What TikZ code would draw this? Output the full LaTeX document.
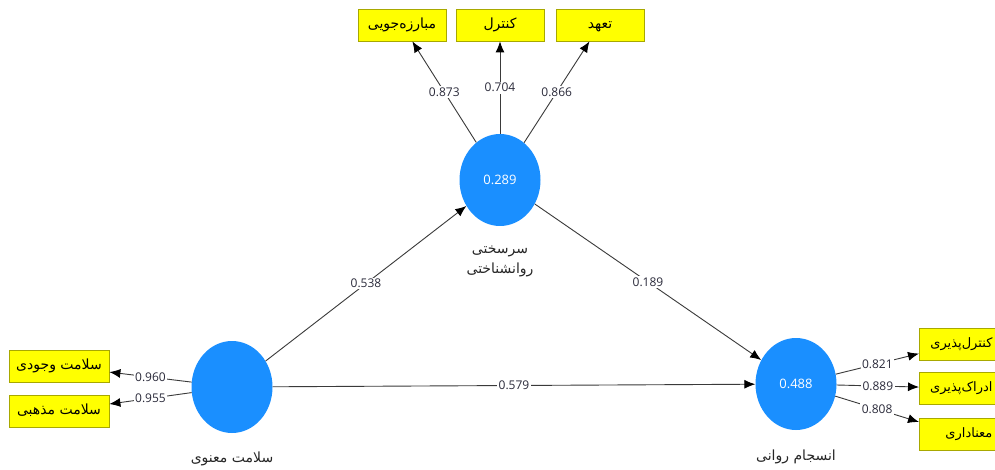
\documentclass[tikz,border=0pt]{standalone}
\usepackage{fontspec}
\setmainfont{Open Sans}
\newfontfamily\fa[Script=Arabic]{DejaVu Sans}
\TeXXeTstate=1
\usetikzlibrary{shapes.geometric,arrows.meta}
\definecolor{circblue}{HTML}{1A8FFF}
\definecolor{boxyel}{HTML}{FFFF00}
\definecolor{boxedge}{HTML}{A8A800}
\definecolor{linegray}{HTML}{3A3A3A}
\definecolor{numcol}{HTML}{2A2A3A}
\tikzset{
  lv/.style={ellipse, fill=circblue, draw=none, minimum width=81pt, minimum height=92pt, inner sep=0pt, text=white, font=\fontsize{13}{15}\selectfont},
  ind/.style={rectangle, fill=boxyel, draw=boxedge, line width=0.8pt, minimum height=32pt, inner sep=0pt, text height=9pt, text depth=2pt, font=\fa\fontsize{14}{16}\selectfont},
  rind/.style={ind, anchor=west, inner xsep=4pt, text width=69pt, align=right, font=\fa\fontsize{13}{16}\selectfont},
  lvcap/.style={font=\fa\fontsize{14}{20}\selectfont, align=center, text=black!85},
  con/.style={draw=linegray, line width=0.9pt, -{Latex[length=11pt,width=9pt,color=black]}},
  num/.style={fill=white, inner sep=1.5pt, text=numcol, font=\fontsize{12}{14}\selectfont}
}
\begin{document}
\begin{tikzpicture}[x=1pt,y=-1pt]
\clip (0,0) rectangle (995,470);
\fill[white] (0,0) rectangle (995,470);
% latent variables
\node[lv] (S) at (500,180) {0.289};
\node[lv] (A) at (232,387) {};
\node[lv] (B) at (796,384) {0.488};
% captions
\node[lvcap] (Scap) at (500,261) {\beginR سرسختی\endR\\\beginR روانشناختی\endR};
\node[lvcap] (Acap) at (232,459) {\beginR سلامت معنوی\endR};
\node[lvcap] (Bcap) at (796,457) {\beginR انسجام روانی\endR};
% indicators top
\node[ind, minimum width=88pt] (T1) at (402,25) {\beginR مبارزه‌جویی\endR};
\node[ind, minimum width=88pt] (T2) at (500,25) {\beginR کنترل\endR};
\node[ind, minimum width=88pt] (T3) at (600,25) {\beginR تعهد\endR};
% indicators left
\node[ind, minimum width=100pt] (L1) at (59,366) {\beginR سلامت وجودی\endR};
\node[ind, minimum width=100pt] (L2) at (59,411) {\beginR سلامت مذهبی\endR};
% indicators right
\node[rind] (R1) at (919,344) {\beginR کنترل‌پذیری\endR};
\node[rind] (R2) at (919,388) {\beginR ادراک‌پذیری\endR};
\node[rind] (R3) at (919,434) {\beginR معناداری\endR\hspace*{5pt}};
% structural paths
\draw[con] (A) -- node[num] {0.538} (S);
\draw[con] (S) -- node[num] {0.189} (B);
\draw[con] (A) -- node[num] {0.579} (B);
% loadings
\draw[con] (S) -- node[num] {0.873} (T1);
\draw[con] (S) -- node[num] {0.704} (T2);
\draw[con] (S) -- node[num] {0.866} (T3);
\draw[con] (A) -- node[num] {0.960} (L1);
\draw[con] (A) -- node[num] {0.955} (L2);
\draw[con] (B) -- node[num] {0.821} (R1);
\draw[con] (B) -- node[num] {0.889} (R2);
\draw[con] (B) -- node[num] {0.808} (R3);
\end{tikzpicture}
\end{document}
